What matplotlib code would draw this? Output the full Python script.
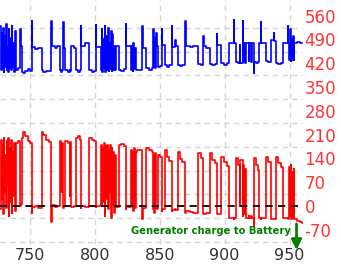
import matplotlib
matplotlib.use("Agg")
import matplotlib.pyplot as plt

# time (x) of each step
t = [727.0, 727.6, 728.2, 728.7, 729.3, 729.8, 730.4, 731.0, 731.5, 732.1,
     732.7, 733.2, 733.8, 734.3, 734.9, 735.5, 736.0, 736.6, 737.2, 737.8,
     738.4, 739.0, 739.5, 741.0, 742.5, 743.3, 743.6, 745.0, 746.5, 748.5,
     750.0, 751.3, 751.7, 754.0, 756.5, 759.0, 760.5, 762.5, 764.5, 766.3,
     766.7, 769.0, 771.0, 773.0, 774.0, 774.4, 775.6, 776.0, 777.4, 779.5,
     781.0, 781.3, 782.0, 784.0, 785.9, 787.0, 788.5, 789.2, 789.6, 792.5,
     795.7, 797.5, 799.5, 800.8, 801.2, 804.6, 805.2, 805.8, 806.4, 807.0,
     807.6, 808.2, 808.8, 809.4, 810.0, 810.6, 811.2, 811.8, 812.4, 813.0,
     813.6, 814.2, 814.8, 815.4, 816.2, 818.7, 820.5, 822.5, 823.9, 824.3,
     827.7, 828.4, 829.1, 829.8, 830.5, 831.2, 832.0, 832.8, 836.7, 837.1,
     839.8, 842.0, 844.0, 845.0, 845.5, 846.0, 846.6, 847.1, 847.6, 848.9,
     850.5, 851.5, 851.9, 854.0, 855.5, 857.5, 859.2, 859.6, 862.0, 862.5,
     864.3, 865.8, 867.5, 869.4, 869.9, 873.0, 876.0, 879.7, 881.5, 883.5,
     883.9, 886.0, 888.7, 890.5, 892.5, 893.8, 894.2, 897.6, 899.5, 901.5,
     903.6, 907.2, 907.6, 908.7, 910.5, 911.5, 912.0, 913.8, 914.3, 915.0,
     915.6, 916.4, 918.5, 919.0, 920.5, 921.0, 922.6, 922.8, 924.5, 926.0,
     926.7, 928.0, 928.4, 931.8, 933.5, 935.6, 938.0, 938.4, 939.5, 941.5,
     943.5, 944.6, 948.5, 948.9, 949.7, 950.3, 950.9, 951.5, 952.1, 952.7,
     953.2, 953.6, 956.0, 958.0, 960.0]

blue = [530, 400, 510, 405, 525, 395, 500, 410, 535, 400,
        470, 395, 520, 405, 495, 400, 530, 410, 480, 395,
        515, 400, 400, 405, 520, 470, 395, 390, 398, 402,
        398, 545, 468, 462, 466, 400, 395, 398, 396, 545,
        470, 465, 472, 400, 395, 400, 540, 465, 400, 395,
        400, 398, 470, 465, 400, 395, 400, 530, 470, 478,
        400, 395, 398, 532, 468, 400, 520, 395, 490, 405,
        530, 395, 500, 400, 525, 398, 480, 402, 515, 396,
        505, 400, 470, 400, 470, 400, 398, 402, 535, 470,
        400, 470, 398, 480, 402, 465, 400, 400, 530, 465,
        405, 400, 405, 520, 410, 495, 405, 510, 470, 410,
        412, 520, 475, 415, 410, 415, 530, 468, 488, 470,
        415, 412, 415, 545, 470, 468, 472, 418, 415, 500,
        470, 465, 418, 415, 418, 505, 475, 420, 415, 420,
        480, 548, 478, 424, 420, 475, 422, 545, 425, 480,
        420, 478, 425, 478, 424, 480, 392, 424, 420, 424,
        478, 540, 478, 426, 424, 488, 510, 485, 420, 418,
        422, 478, 530, 478, 430, 520, 425, 490, 430, 500,
        428, 480, 482, 478, 480]

red = [-10, 195, 20, 180, -25, 200, 40, 150, -5, 190,
       60, 200, -30, 170, 10, 195, -20, 160, 30, 185,
       -15, 175, 185, 190, 0, 5, 200, 218, 205, 192,
       186, -20, -3, 0, -5, 218, 208, 195, 188, -47,
       2, -2, 0, 190, 40, 185, -5, 0, 190, 185,
       30, 188, -3, 0, 200, 205, 195, -5, 0, -3,
       199, 195, 190, -2, 0, 180, 0, 170, 10, 185,
       -30, 175, 20, 180, -10, 165, 40, 178, -35, 170,
       5, 160, -20, 150, -3, 180, 182, 175, -10, -2,
       165, 0, 160, -15, 170, -5, 160, 165, -40, -5,
       170, 165, 160, -10, 150, -20, 155, -5, -10, 150,
       145, -15, -10, 165, 145, 132, -15, -12, -10, -12,
       160, 138, 128, -20, -15, -18, -22, 155, 140, -25,
       -25, -22, 155, 135, 125, -25, -25, 145, 128, 118,
       -35, -38, -35, 140, 120, 0, 135, -30, 120, -25,
       110, -35, -30, -35, -30, -36, -60, 140, 120, 105,
       -37, -38, -37, 145, 130, -40, -38, -40, 145, 125,
       115, -37, -40, -38, 115, -30, 120, -40, 100, -35,
       110, -40, -45, -48, -50]

right_ticks = [560, 490, 420, 350, 280, 210, 140, 70, 0, -70]
x_ticks = [750, 800, 850, 900, 950]
grid_levels = [-106, -36, 34, 104, 174, 244, 314, 384, 454, 524]

fig = plt.figure(figsize=(3.41, 2.66), dpi=100)
ax = fig.add_axes([0, 0.083, 0.889, 0.917])

# grid (offset from the labels, as in the original)
ax.set_yticks(grid_levels, minor=True)
ax.grid(True, which="minor", axis="y", color="#d4d4d4", linestyle=(0, (4, 3)), linewidth=1)
ax.grid(True, which="major", axis="x", color="#d4d4d4", linestyle=(0, (4, 3)), linewidth=1)

ax.step(t, blue, where="post", color="#0000ff", linewidth=1.2)
ax.step(t, red, where="post", color="#ff0000", linewidth=1.2)
ax.axhline(0, color="black", linestyle=(0, (4, 3)), linewidth=1.3)

ax.set_xlim(727, 960.5)
ax.set_ylim(-112, 606)

ax.set_xticks(x_ticks)
ax.set_xticklabels([str(v) for v in x_ticks], fontsize=11.5, color="#333333")
ax.yaxis.tick_right()
ax.set_yticks(right_ticks)
ax.set_yticklabels([str(v) for v in right_ticks], fontsize=12, color="#ff3333")
ax.tick_params(axis="both", which="both", length=0)
ax.tick_params(axis="x", pad=3)
ax.tick_params(axis="y", pad=1)
for s in ax.spines.values():
    s.set_visible(False)

# annotation
ax.text(951, -73, "Generator charge to Battery", color="#008000", fontsize=7.2,
        fontweight="bold", ha="right", va="center")
ax.annotate("", xy=(955.4, -138), xytext=(955.4, -45), annotation_clip=False,
            arrowprops=dict(arrowstyle="-|>,head_width=0.3,head_length=0.6",
                            color="#008000", lw=2))

fig.savefig("out.png", dpi=100)
